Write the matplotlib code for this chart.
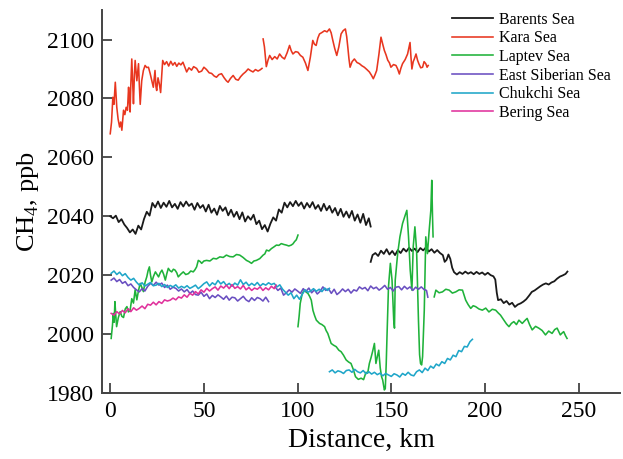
import numpy as np
import matplotlib
matplotlib.use('Agg')
from matplotlib import pyplot as plt
from matplotlib import rcParams

rcParams['font.family'] = 'serif'
rcParams['font.serif'] = ['Liberation Serif', 'DejaVu Serif']
rcParams['mathtext.fontset'] = 'custom'
rcParams['mathtext.rm'] = 'Liberation Serif'

# Barents Sea
barents_x1 = [0, 1.5, 3, 4.5, 6, 7.5, 9, 10.5, 12, 13.5, 15, 16.5, 18, 19.5, 21, 22.5, 24, 25.5, 27, 28.5,
              30, 31.5, 33, 34.5, 36, 37.5, 39, 40.5, 42, 43.5, 45, 46.5, 48, 49.5, 51, 52.5, 54, 55.5, 57, 58.5,
              60, 61.5, 63, 64.5, 66, 67.5, 69, 70.5, 72, 73.5, 75, 76.5, 78, 79.5, 81, 82.5, 84, 85.5, 87, 88.5,
              90, 91.5, 93, 94.5, 96, 97.5, 99, 100.5, 102, 103.5, 105, 106.5, 108, 109.5, 111, 112.5, 114, 115.5,
              117, 118.5, 120, 121.5, 123, 124.5, 126, 127.5, 129, 130.5, 132, 133.5, 135, 136.5, 138, 139]
barents_y1 = [2040, 2039.3, 2040.2, 2038, 2039, 2037.2, 2036, 2034.5, 2035.5, 2034, 2036.8, 2035.5, 2039, 2041.5,
              2040.2, 2044.5, 2043, 2045, 2042.8, 2044.6, 2043.2, 2045.2, 2043, 2044.2, 2042.5, 2044.8, 2043.3,
              2045, 2043.5, 2044.3, 2042.2, 2044.5, 2042.8, 2043.8, 2041.6, 2043.9, 2041.2, 2042.6, 2040.5, 2043.5,
              2041.8, 2043, 2040.3, 2042.2, 2039.8, 2041.5, 2039, 2041.3, 2038.2, 2040, 2038.8, 2040.5, 2037.3,
              2038.5, 2035.6, 2037, 2034.8, 2037.5, 2039.6, 2038.5, 2042.3, 2041.2, 2044.6, 2043, 2044.8, 2043.4,
              2045.2, 2043.5, 2044.7, 2042.6, 2044.5, 2043, 2044.8, 2042.5, 2043.8, 2041.8, 2044.2, 2042, 2043.5,
              2041.2, 2042.8, 2040.3, 2042.5, 2039.8, 2041.6, 2039.5, 2041.8, 2038.5, 2040.6, 2037.8, 2040.8,
              2037, 2039.3, 2036.5]
barents_x2 = [139, 140, 141.5, 143, 144.5, 146, 147.5, 149, 150.5, 152, 153.5, 155, 156.5, 158, 159.5, 161, 162.5,
              164, 165.5, 167, 168.5, 170, 171.5, 173, 174.5, 176, 177.5, 178.5, 179.5, 180.5, 181.5, 182.5, 183.5,
              185, 186.5, 188, 189.5, 191, 192.5, 194, 195.5, 197, 198.5, 200, 201.5, 203, 204.5, 205.5, 206.3,
              207, 208.5, 210, 211.5, 213, 214.5, 216, 217.5, 219, 220.5, 222, 223.5, 225, 226.5, 228, 229.5,
              231, 232.5, 234, 235.5, 237, 238.5, 240, 241.5, 243, 244]
barents_y2 = [2024.5, 2026.8, 2027.5, 2026.5, 2028.3, 2027.2, 2028.8, 2027, 2028.2, 2026.8, 2028.5, 2027.5, 2029,
              2028, 2029.3, 2028.2, 2029, 2027.8, 2029.2, 2028.4, 2029.4, 2028, 2028.8, 2027.6, 2028.5, 2027.5,
              2026.8, 2024.5, 2025.2, 2027, 2025.5, 2022.5, 2021, 2020.2, 2021, 2020.4, 2021.2, 2020.5, 2021,
              2020.3, 2021.1, 2020.4, 2020.9, 2020.1, 2020.8, 2020, 2019.6, 2018.5, 2014, 2011.5, 2011.8, 2010.5,
              2011.2, 2010, 2010.6, 2009.2, 2010, 2010.4, 2011, 2011.8, 2013, 2014.3, 2014.8, 2015.5, 2016.2,
              2016.8, 2017.2, 2016.8, 2017.5, 2017.9, 2018.8, 2019.5, 2019.9, 2020.4, 2021.2]

# Kara Sea
kara_x1 = [0, 0.7, 1.4, 2, 2.7, 3.5, 4.2, 5, 5.6, 6.2, 7.1, 7.8, 8.5, 9.2, 9.8, 10.2, 10.6, 11, 11.5, 12, 12.4,
           12.9, 13.3, 14.2, 15.1, 15.5, 16, 16.8, 17.7, 18.6, 19.5, 20.4, 21.3, 22.2, 23, 23.9, 24.4, 24.8, 25.5,
           26.2, 26.9, 27.5, 28, 29, 30.1, 31.2, 32.3, 33.4, 34.5, 35.5, 36.6, 37.7, 38.8, 39.9, 40.8, 42, 43.4,
           44.5, 46.1, 47.3, 48.8, 50, 51.4, 52.8, 54.1, 55.5, 56.7, 58, 59.4, 60.8, 62, 62.9, 64.2, 65.6, 67,
           68.3, 69.6, 70.9, 72.2, 73.6, 75, 76.2, 77.5, 78.9, 80, 81]
kara_y1 = [2068, 2072, 2080.4, 2078, 2085.5, 2077, 2073, 2070.3, 2072, 2069.2, 2076, 2074.5, 2077, 2076, 2083.8,
           2079, 2075.4, 2085, 2093.4, 2085, 2078.2, 2088, 2092.9, 2086, 2091.8, 2085, 2078, 2086, 2089.5, 2091.2,
           2090.5, 2090.6, 2088.5, 2086, 2083.8, 2089.5, 2084, 2082.7, 2087, 2085, 2082, 2088, 2092.9, 2091.5,
           2092.5, 2091, 2092.6, 2091.3, 2092.2, 2090.9, 2092, 2091.4, 2092.3, 2090.5, 2089, 2090.4, 2089.6,
           2090.8, 2090.2, 2088.9, 2089.3, 2090.6, 2089.8, 2088.7, 2088.5, 2087.6, 2087.2, 2088.1, 2088.4, 2087,
           2086, 2085.5, 2086.8, 2087.8, 2086.5, 2086.2, 2087.4, 2088.3, 2089, 2090, 2089.4, 2089, 2089.8, 2089.3,
           2089.7, 2090.2]
kara_x2 = [81.6, 82.3, 83.3, 84.2, 85.1, 86.4, 87.8, 89.1, 90.4, 91.7, 93, 94.4, 95.7, 96.6, 97.5, 98.9, 100.2,
           101.5, 102.8, 104.2, 105.5, 106.8, 108.1, 109, 109.9, 110.8, 111.7, 113, 114.4, 115.7, 117, 117.9,
           118.8, 119.8, 120.9, 122, 123.2, 124.3, 125.5, 126.2, 126.8, 127.4, 128, 129.1, 130.3, 131.7, 133,
           134.3, 135.6, 137, 138.3, 139.4, 140.4, 141.3, 142.2, 143.4, 144.5, 145.4, 146.3, 147.2, 148.1, 149,
           149.8, 151.2, 152.5, 153.4, 154.3, 155.1, 156, 157.4, 158.7, 160, 160.5, 161, 161.7, 162.3, 163.2,
           164, 164.7, 165.7, 166.7, 167.5, 168.4, 169.1, 169.7]
kara_y2 = [2100.2, 2097.5, 2090.8, 2093, 2094.6, 2093.2, 2094.2, 2093.4, 2095.1, 2094, 2093.4, 2095.5, 2098,
           2096.2, 2095.1, 2095.9, 2095.7, 2094.6, 2094, 2092, 2089.5, 2094, 2099.7, 2098.4, 2098, 2100.5, 2101.9,
           2102.4, 2103, 2102.6, 2103.6, 2102.3, 2099.7, 2097, 2094.6, 2097.5, 2101.9, 2103, 2103.6, 2101, 2097.4,
           2093.5, 2090.6, 2092.5, 2093.4, 2092.2, 2091.8, 2091.1, 2090.6, 2089.8, 2089, 2087.9, 2086.7, 2088,
           2089.5, 2095, 2100.8, 2098.5, 2096.3, 2094.8, 2093, 2092.1, 2090.6, 2091.5, 2091.2, 2090, 2088.3,
           2090.2, 2091.8, 2093.2, 2095.1, 2099, 2094, 2090, 2092.5, 2093.4, 2095.1, 2093, 2091.8, 2090.4, 2090.6,
           2092.5, 2091.8, 2090.6, 2091.2]

# Laptev Sea
laptev_x1 = [0.5, 1.2, 1.6, 2.1, 2.5, 3, 3.4, 4.3, 5.3, 6.2, 7.1, 8, 8.9, 9.7, 10.6, 11.5, 12.4, 13.3, 14.2, 15.1,
             16, 16.9, 17.7, 18.6, 19.5, 20.2, 20.9, 21.5, 22.2, 23.1, 24.1, 25, 25.8, 26.7, 27.6, 28.5, 29.4,
             30.2, 31, 31.9, 32.8, 33.7, 34.6, 35.5, 36.3, 37.6, 39, 40.3, 41.7, 43, 44.3, 45.2, 46.1, 47, 48,
             48.8, 50, 51.4, 53.2, 55, 56.7, 58.5, 60.3, 62, 63.8, 65.6, 67.4, 69.1, 70.9, 72.7, 74, 75.4, 76.7,
             78, 79.8, 81.6, 82.5, 83.4, 84.7, 86, 87.4, 88.7, 90, 91.3, 92.7, 94, 95.3, 96.6, 97.5, 98.4, 99.3,
             100.2]
laptev_y1 = [1998.5, 2003, 2007, 2004, 2011, 2006, 2002.5, 2005.5, 2007.6, 2006, 2005.6, 2008.5, 2009.3, 2007.5,
             2008, 2012, 2010.5, 2015, 2011.6, 2014.8, 2017.2, 2015.8, 2014.4, 2017.6, 2019.4, 2021.5, 2022.8,
             2020, 2017.7, 2019.6, 2021.1, 2020.2, 2019.4, 2020.8, 2021.7, 2020.3, 2018.3, 2020.5, 2022.3,
             2021.5, 2021.1, 2022, 2021.7, 2020.8, 2019.4, 2020.3, 2021.1, 2020.2, 2020.5, 2021.4, 2021.1, 2021.8,
             2022.8, 2025, 2024.6, 2024, 2024.8, 2025, 2024.8, 2025.7, 2025.5, 2026.2, 2026, 2026.8, 2026.3,
             2026.2, 2027, 2026.8, 2026, 2025, 2024.6, 2024, 2024.8, 2025, 2025.6, 2026.8, 2027.2, 2028.5, 2028.2,
             2029, 2029.6, 2030.2, 2030.1, 2030.7, 2030.4, 2030.2, 2029.9, 2030.2, 2030.6, 2031.4, 2032, 2033.6]
laptev_x2 = [100.2, 100.8, 101.4, 102.5, 103.7, 104.6, 105.5, 106.4, 107.3, 108.2, 109.1, 110, 111.7, 113, 114.4,
             115.2, 116.1, 117, 117.9, 119.2, 120.6, 122, 123.2, 124.5, 125.9, 127.2, 128.5, 129.7, 130.9, 132.4,
             133.9, 135.2, 136.5, 137.4, 138.3, 139.2, 140, 141, 141.8, 142.6, 143.3, 144.1, 144.8, 145.4, 146.3,
             146.8, 147.3, 147.7, 148.5, 149.5, 150.4, 151.3, 151.7, 152.1, 153.4, 154.6, 156, 157.4, 158.3,
             159.2, 160.1, 161, 161.7, 162.6, 163.5, 164.5, 165.1, 165.6, 166.2, 166.7, 167.6, 168.4, 169.3,
             170.2, 171.1, 171.6, 172, 172.3]
laptev_y2 = [2002.5, 2006, 2010.4, 2013.8, 2014.9, 2014.2, 2013.8, 2012.8, 2011.5, 2008, 2006.2, 2004.7, 2003.6,
             2003.2, 2002.5, 2001.2, 2000.2, 1998.5, 1996.8, 1996.2, 1995.7, 1994.5, 1994, 1992.8, 1991.2, 1990.5,
             1990, 1988, 1985.5, 1984.6, 1985, 1984.5, 1987, 1986.7, 1990, 1992, 1994, 1996.8, 1990, 1992.5,
             1994.5, 1988.5, 1985.5, 1984.4, 1981, 1981.5, 1990, 1999, 2016, 2024, 2018.3, 2004.7, 2002, 2018.3,
             2027.3, 2033, 2037.5, 2040.3, 2042, 2033, 2021.7, 2014.9, 2029.6, 2036.4, 2028.5, 2004.7, 1993, 1990,
             1989.5, 1992.3, 2008, 2033, 2027.3, 2035, 2042, 2052.2, 2040, 2033]
laptev_x3 = [172.9, 173.8, 175.5, 177.3, 179.1, 180.9, 182.6, 184.4, 186.2, 188, 189.7, 191, 192.4, 193.7, 195,
             196.8, 198.6, 200.4, 202.1, 203.9, 205.7, 207, 208.3, 210.1, 211.5, 212.8, 214.1, 215.4, 216.8, 218.1,
             219.9, 221.2, 222.5, 223.8, 225.2, 227, 228.7, 230.5, 232.3, 234, 235.8, 237.2, 238.5, 240.2, 241.1,
             242, 243, 243.8]
laptev_y3 = [2012.6, 2014.9, 2014, 2014.3, 2015.2, 2014.9, 2013.9, 2014.3, 2015, 2014.9, 2011.5, 2010, 2008.7,
             2009.6, 2009.3, 2008.5, 2008.1, 2008.8, 2007.5, 2008.4, 2008.1, 2007.2, 2006.4, 2004.7, 2003.4,
             2002.5, 2003.6, 2004.2, 2003.2, 2004.7, 2003.6, 2004.5, 2005.3, 2003.2, 2001.4, 2002.6, 2002,
             2001.2, 1999.7, 2001, 2000.2, 2001.5, 2002, 1999.7, 2000.3, 2000.8, 1999.4, 1998.5]

# East Siberian Sea
esib_x1 = [0.5, 2, 3.5, 5, 6.5, 8, 9.5, 11, 12.5, 14, 15.5, 17, 18.5, 20, 21.5, 23, 24.5, 26, 27.5, 29, 30.5, 32,
           33.5, 35, 36.5, 38, 39.5, 41, 42.5, 44, 45.5, 47, 48.5, 50, 51.5, 53, 54.5, 56, 57.5, 59, 60.5, 62,
           63.5, 65, 66.5, 68, 69.5, 71, 72.5, 74, 75.5, 77, 78.5, 80, 81.5, 83, 84.5]
esib_y1 = [2018.3, 2019, 2017.8, 2018.5, 2017.2, 2017.8, 2016.4, 2017, 2015.8, 2015, 2014.3, 2015.4, 2014.6,
           2016.2, 2017.2, 2016.5, 2017.6, 2016.6, 2017.3, 2015.8, 2016.6, 2015.2, 2015.9, 2015.5, 2014.6,
           2015.3, 2014.3, 2015.1, 2013.8, 2014.6, 2013.4, 2013.2, 2014.2, 2012.8, 2013.6, 2012, 2013.1, 2012.4,
           2013.3, 2012.6, 2011.8, 2012.9, 2011.5, 2012.5, 2012.3, 2011.2, 2012, 2012.8, 2011.6, 2011, 2012.3,
           2011.4, 2012.4, 2012, 2011.2, 2012.5, 2011]
esib_x2 = [88, 89.5, 91, 92.5, 94, 95.5, 97, 98.5, 100, 101.5, 103, 104.5, 106, 107.5, 109, 110.5, 112, 113.5,
           115, 116.5, 118, 119.5, 121, 122.5, 124, 125.5, 127, 128.5, 130, 131.5, 133, 134.5, 136, 137.5, 139,
           140.5, 142, 143.5, 145, 146.5, 148, 149.5, 151, 152.5, 154, 155.5, 157, 158.5, 160, 161.5, 163, 164.5,
           166, 167.5, 168.8, 169.5]
esib_y2 = [2016, 2014.8, 2015.6, 2013.2, 2014, 2015, 2014.2, 2015.3, 2014.6, 2013.8, 2015.4, 2014.5, 2015.6,
           2014, 2015, 2013.6, 2014.5, 2016, 2014.8, 2015.4, 2013.8, 2015.2, 2013.4, 2014.2, 2015.3, 2014.4,
           2015.2, 2013.9, 2015, 2014.6, 2016, 2015.3, 2015.8, 2014.7, 2016.3, 2015.4, 2015.9, 2014.9, 2015.6,
           2016.5, 2015.2, 2015.8, 2014.6, 2015.9, 2016.1, 2015, 2016.2, 2015.3, 2016, 2014.8, 2015.9, 2015.2,
           2016, 2015.1, 2014.8, 2012.5]

# Chukchi Sea
chuk_x1 = [0.5, 2, 3.5, 5, 6.5, 8, 9.5, 11, 12.5, 14, 15.5, 17, 18.5, 20, 21.5, 23, 24.5, 26, 27.5, 29, 30.5, 32,
           33.5, 35, 36.5, 38, 39.5, 41, 42.5, 44, 45.5, 47, 48.5, 50, 51.5, 53, 54.5, 56, 57.5, 59, 60.5, 62,
           63.5, 65, 66.5, 68, 69.5, 71, 72.5, 74, 75.5, 77, 78.5, 80, 81.5, 83, 84.5, 86, 87.5, 89, 90.5, 92,
           93.5, 95, 96.5, 98, 99.5, 101, 102.5, 104, 105.5, 107, 108.5, 110, 111.5, 113, 114.5, 116, 117]
chuk_y1 = [2020.6, 2021.4, 2020.2, 2021, 2019.8, 2020.5, 2019.2, 2018.3, 2018.9, 2017.6, 2016.6, 2017.4, 2016.3,
           2016.9, 2017.5, 2016.4, 2016.6, 2017.2, 2016.1, 2016.8, 2015.8, 2016.5, 2016, 2016.7, 2015.6, 2016.2,
           2015.7, 2016.4, 2015.5, 2016, 2016.6, 2015.4, 2016.2, 2017.1, 2017.7, 2016.3, 2017.4, 2016.7, 2018.2,
           2017, 2017.8, 2016.5, 2017.2, 2016.2, 2017.3, 2016.6, 2018.4, 2016.8, 2017.6, 2016.4, 2017.2, 2016.5,
           2017.5, 2016.3, 2017.1, 2016.6, 2017.4, 2016.8, 2017.2, 2016, 2016.7, 2015.2, 2014.2, 2013.2, 2014,
           2012, 2013.2, 2011.8, 2013.5, 2015, 2014.2, 2014.6, 2015.4, 2014.5, 2015.2, 2014.4, 2015.6, 2014.8,
           2015.5]
chuk_x2 = [117, 118.5, 120, 121.5, 123, 124.5, 126, 127.5, 129, 130.5, 132, 133.5, 135, 136.5, 138, 139.5, 141,
           142.5, 144, 145.5, 147, 148.5, 150, 151.5, 153, 154.5, 156, 157.5, 159, 160.5, 162, 163.5, 165, 166.5,
           168, 169.5, 171, 172.5, 174, 175.5, 177, 178.5, 180, 181.5, 183, 184.5, 186, 187.5, 189, 190.5, 192,
           193.3]
chuk_y2 = [1987.2, 1987.8, 1986.8, 1987.5, 1987.2, 1986.6, 1987.6, 1987.8, 1987, 1988, 1987.2, 1986.8, 1987.6,
           1986.5, 1987.2, 1986.4, 1987, 1986.2, 1986.7, 1985.8, 1986.6, 1986.1, 1985.6, 1986.5, 1986.1, 1985.4,
           1986.6, 1986, 1987, 1986.1, 1985.8, 1987.2, 1987.8, 1986.9, 1988.4, 1987.6, 1989.1, 1988.4, 1989.8,
           1989.2, 1990.6, 1990, 1991.7, 1991.2, 1992.8, 1992.3, 1994.4, 1994, 1995.8, 1995.6, 1997.4, 1998.2]

# Bering Sea
bering_x = [0.5, 2, 3.5, 5, 6.5, 8, 9.5, 11, 12.5, 14, 15.5, 17, 18.5, 20, 21.5, 23, 24.5, 26, 27.5, 29, 30.5,
            32, 33.5, 35, 36.5, 38, 39.5, 41, 42.5, 44, 45.5, 47, 48.5, 50, 51.5, 53, 54.5, 56, 57.5, 59, 60.5, 62,
            63.5, 65, 66.5, 68, 69.5, 71, 72.5, 74, 75.5, 77, 78.5, 80, 81.5, 83, 84.5, 86, 87.5, 88.5]
bering_y = [2007, 2006.4, 2007.6, 2006.8, 2008, 2007.2, 2008.6, 2007.6, 2008.9, 2008.1, 2008.7, 2009.5, 2008.6,
            2010.1, 2009.8, 2010.8, 2009.9, 2011, 2010.4, 2011.6, 2011.2, 2011.5, 2012.2, 2011.6, 2012.6, 2012.2,
            2013.3, 2012.5, 2013.8, 2013.2, 2014.4, 2013.6, 2015, 2014.2, 2015.5, 2014.6, 2015.4, 2016, 2014.9,
            2016.3, 2015.6, 2016.6, 2015.4, 2016.8, 2015.5, 2016.1, 2015.3, 2016.5, 2015, 2015.8, 2014.8, 2015.6,
            2015.2, 2016, 2014.8, 2015.7, 2015, 2016.2, 2015.4, 2016.6]

c_barents = '#1a1a1a'
c_kara = '#e8361f'
c_laptev = '#1fb23a'
c_esib = '#6a4fc1'
c_chuk = '#1fa6c9'
c_bering = '#e0329c'

fig = plt.figure(figsize=(6.23, 4.59), dpi=100)
ax = fig.add_axes([0.164, 0.144, 0.831, 0.834])

lw = 1.15
ax.plot(barents_x1, barents_y1, color=c_barents, lw=1.3, label='Barents Sea')
ax.plot(barents_x2, barents_y2, color=c_barents, lw=1.3)
ax.plot(kara_x1, kara_y1, color=c_kara, lw=lw, label='Kara Sea')
ax.plot(kara_x2, kara_y2, color=c_kara, lw=lw)
ax.plot(laptev_x1, laptev_y1, color=c_laptev, lw=lw, label='Laptev Sea')
ax.plot(laptev_x2, laptev_y2, color=c_laptev, lw=lw)
ax.plot(laptev_x3, laptev_y3, color=c_laptev, lw=lw)
ax.plot(esib_x1, esib_y1, color=c_esib, lw=lw, label='East Siberian Sea')
ax.plot(esib_x2, esib_y2, color=c_esib, lw=lw)
ax.plot(chuk_x1, chuk_y1, color=c_chuk, lw=lw, label='Chukchi Sea')
ax.plot(chuk_x2, chuk_y2, color=c_chuk, lw=lw)
ax.plot(bering_x, bering_y, color=c_bering, lw=lw, label='Bering Sea')

ax.set_xlim(-4.3, 272)
ax.set_ylim(1980, 2110)
ax.set_xticks([0, 50, 100, 150, 200, 250])
ax.set_yticks([1980, 2000, 2020, 2040, 2060, 2080, 2100])
ax.set_xlabel('Distance, km', fontsize=20, labelpad=4)
ax.set_ylabel(r'CH$_\mathregular{4}$, ppb', fontsize=19, labelpad=4)
ax.tick_params(direction='in', length=7, width=1.2, labelsize=17, color='#333333', pad=6)
for side in ['top', 'right']:
    ax.spines[side].set_visible(False)
for side in ['left', 'bottom']:
    ax.spines[side].set_linewidth(1.4)
    ax.spines[side].set_color('#444444')

ax.legend(loc='upper left', bbox_to_anchor=(0.725, 0.974), bbox_transform=fig.transFigure,
          frameon=False, fontsize=11.5, handlelength=2.6, handletextpad=0.35,
          labelspacing=0.16, borderpad=0, borderaxespad=0)

fig.savefig('out.png', dpi=100)
